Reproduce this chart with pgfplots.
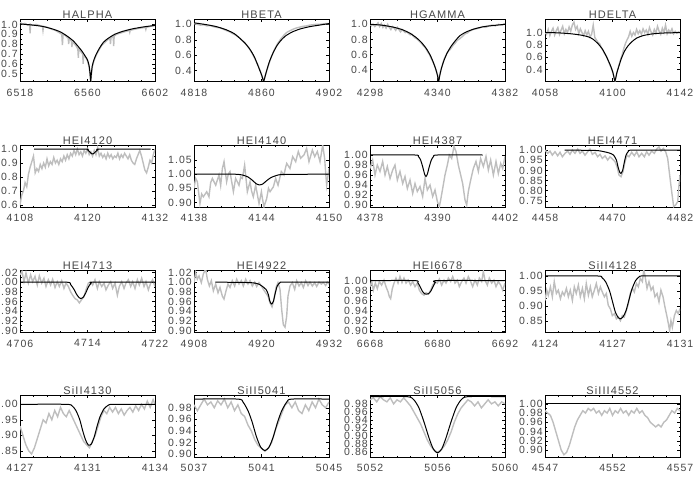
\documentclass[border=0pt]{standalone}
\usepackage{pgfplots}
\pgfplotsset{compat=1.18}
\usepackage{fontspec}
\setmainfont{Liberation Sans}
\newfontfamily\idlfont[LetterSpace=10]{Liberation Sans}
\definecolor{obsgray}{RGB}{190,190,190}
\definecolor{lbl}{RGB}{70,70,70}
\pgfplotsset{
  panel/.style={
    scale only axis, width=135pt, height=62pt, anchor=north west,
    axis line style={black, line width=0.6pt},
    tick align=inside, tick pos=both, xticklabel pos=lower, yticklabel pos=left,
    major tick length=3pt, minor tick length=1.5pt,
    every tick/.style={black, line width=0.5pt},
    minor x tick num=4, minor y tick num=1,
    scaled ticks=false,
    tick label style={font=\idlfont\fontsize{10.5}{10.5}\selectfont, text=lbl},
    xticklabel style={inner sep=0pt, yshift=-7pt},
    yticklabel style={inner sep=0pt, xshift=-2pt},
    every axis title/.style={at={(0.5,1)}, anchor=base, inner sep=0pt, yshift=1pt,
      font=\idlfont\fontsize{11}{11}\selectfont, text=lbl},
  },
  obs/.style={color=obsgray, line width=1.4pt},
  model/.style={black, line width=1.0pt, smooth, tension=0.4},
}
\begin{document}
\begin{tikzpicture}
\path[use as bounding box] (0pt,0pt) rectangle (700pt,-500pt);

% ---------- row 1 ----------
\begin{axis}[panel, at={(20pt,-19.5pt)}, title={HALPHA},
  xmin=6518, xmax=6602, ymin=0.42, ymax=1.05,
  xtick={6518,6560,6602}, xticklabels={6518,6560,6602},
  ytick={0.5,0.6,0.7,0.8,0.9,1.0}, yticklabels={0.5,0.6,0.7,0.8,0.9,1.0}]
\addplot[obs] coordinates {
(6518,1.02) (6519,1.01) (6520,1.0) (6521,1.01) (6522,1.0) (6523,0.99) (6524,1.0) (6524.3,0.91) (6524.6,1.0)
(6526,0.99) (6528,1.0) (6530,0.99) (6532,0.98) (6532.3,0.94) (6532.6,0.98) (6535,0.97) (6538,0.95)
(6540,0.94) (6542,0.92) (6544,0.90) (6544.4,0.79) (6544.8,0.9) (6546,0.89) (6548,0.86) (6548.3,0.80)
(6548.6,0.86) (6550,0.83) (6550.3,0.77) (6550.6,0.82) (6552,0.80) (6553,0.78) (6554,0.75) (6554.3,0.66)
(6554.6,0.75) (6556,0.72) (6557,0.70) (6557.3,0.60) (6557.6,0.69) (6559,0.66) (6560,0.63) (6561,0.57)
(6562,0.43) (6563,0.57) (6564,0.63) (6565.5,0.69) (6567.5,0.75) (6569,0.79) (6571,0.82) (6573,0.85)
(6574,0.86) (6574.3,0.80) (6574.6,0.86) (6576,0.88) (6576.3,0.78) (6576.6,0.88) (6578,0.9) (6580,0.91)
(6582,0.92) (6584,0.93) (6586,0.94) (6586.3,0.92) (6586.6,0.94) (6589,0.95) (6592,0.96) (6594,0.965)
(6596,0.97) (6596.3,0.95) (6596.6,0.97) (6599,0.98) (6602,0.99)};
\addplot[model] coordinates {
(6518,1.005) (6525,0.995) (6532,0.98) (6538,0.955) (6543,0.925) (6547,0.885) (6551,0.835) (6554,0.78)
(6556.5,0.73) (6558.5,0.68) (6560,0.64) (6561,0.58) (6561.6,0.50) (6562.0,0.42) (6562.4,0.50) (6563,0.58)
(6564,0.64) (6565.5,0.70) (6567.5,0.76) (6570,0.82) (6573,0.86) (6577,0.90) (6582,0.93) (6588,0.955)
(6595,0.975) (6602,0.99)};
\end{axis}

\begin{axis}[panel, at={(194pt,-19.5pt)}, title={HBETA},
  xmin=4818, xmax=4902, ymin=0.258, ymax=1.063,
  xtick={4818,4860,4902}, xticklabels={4818,4860,4902},
  ytick={0.4,0.6,0.8,1.0}, yticklabels={0.4,0.6,0.8,1.0}]
\addplot[obs] coordinates {
(4818,1.01) (4820,1.00) (4822,0.99) (4824,0.995) (4826,0.98) (4828,0.985) (4830,0.97) (4832,0.96)
(4834,0.955) (4836,0.94) (4838,0.92) (4840,0.905) (4842,0.88) (4844,0.86) (4846,0.83) (4848,0.79)
(4850,0.75) (4852,0.70) (4854,0.63) (4856,0.55) (4858,0.46) (4859.5,0.38) (4860.5,0.31) (4861.3,0.27)
(4862,0.31) (4863,0.38) (4864.5,0.48) (4866,0.57) (4868,0.67) (4870,0.75) (4872,0.81) (4874,0.86)
(4876,0.90) (4878,0.92) (4880,0.94) (4882,0.955) (4884,0.965) (4886,0.975) (4888,0.98) (4890,0.99)
(4892,0.995) (4894,1.0) (4896,1.0) (4898,1.005) (4900,1.01) (4902,1.01)};
\addplot[model] coordinates {
(4818,1.02) (4826,0.995) (4832,0.97) (4838,0.93) (4843,0.88) (4847,0.81) (4850,0.75) (4853,0.67)
(4855.5,0.58) (4857.5,0.48) (4859,0.40) (4860.3,0.33) (4861.3,0.26) (4862.3,0.33) (4863.5,0.42)
(4865,0.52) (4867,0.62) (4869.5,0.72) (4872,0.79) (4875,0.85) (4879,0.90) (4884,0.94) (4890,0.97)
(4896,0.99) (4902,1.01)};
\end{axis}

\begin{axis}[panel, at={(370pt,-19.5pt)}, title={HGAMMA},
  xmin=4298, xmax=4382, ymin=0.242, ymax=1.064,
  xtick={4298,4340,4382}, xticklabels={4298,4340,4382},
  ytick={0.4,0.6,0.8,1.0}, yticklabels={0.4,0.6,0.8,1.0}]
\addplot[obs] coordinates {
(4298,1.0) (4299,0.98) (4300,1.0) (4301,0.97) (4302,0.99) (4303,1.02) (4304,0.97) (4305,1.01) (4306,0.96)
(4307,0.99) (4308,0.95) (4309,1.0) (4310,0.96) (4311,0.93) (4312,0.97) (4313,0.95) (4314,0.92) (4315,0.96)
(4316,0.93) (4317,0.9) (4318,0.93) (4319,0.91) (4320,0.89) (4321,0.9) (4322,0.88) (4323,0.86) (4324,0.87)
(4325,0.84) (4326,0.82) (4327,0.81) (4328,0.79) (4329,0.77) (4330,0.75) (4331,0.72) (4332,0.70) (4333,0.67)
(4334,0.63) (4335,0.60) (4336,0.55) (4337,0.51) (4338,0.46) (4339,0.40) (4340,0.33) (4340.7,0.26)
(4341.4,0.33) (4342,0.39) (4343,0.46) (4344,0.53) (4345,0.58) (4346,0.62) (4347,0.65) (4348,0.67)
(4349,0.70) (4350,0.73) (4351,0.75) (4352,0.78) (4353,0.80) (4354,0.81) (4355,0.83) (4356,0.85) (4357,0.87)
(4358,0.88) (4359,0.89) (4360,0.91) (4362,0.93) (4364,0.94) (4366,0.95) (4368,0.97) (4370,0.96) (4372,0.98)
(4374,0.99) (4376,0.98) (4378,1.0) (4380,0.99) (4382,1.01)};
\addplot[model] coordinates {
(4298,1.0) (4305,0.99) (4312,0.965) (4318,0.93) (4323,0.88) (4327,0.82) (4330,0.76) (4333,0.68)
(4335.5,0.59) (4337.5,0.49) (4339,0.40) (4340,0.32) (4340.7,0.24) (4341.4,0.32) (4342.5,0.42) (4344,0.52)
(4346,0.62) (4348.5,0.71) (4351,0.78) (4354,0.85) (4358,0.90) (4363,0.94) (4369,0.97) (4375,0.985) (4382,1.0)};
\end{axis}

\begin{axis}[panel, at={(545pt,-19.5pt)}, title={HDELTA},
  xmin=4058, xmax=4142, ymin=0.21, ymax=1.21,
  xtick={4058,4100,4142}, xticklabels={4058,4100,4142},
  ytick={0.4,0.6,0.8,1.0}, yticklabels={0.4,0.6,0.8,1.0}]
\addplot[obs] coordinates {
(4058,1.0) (4059,0.97) (4060,1.05) (4061,0.95) (4062,1.02) (4063,1.07) (4064,0.96) (4065,1.03) (4066,1.08)
(4067,0.97) (4068,1.04) (4069,1.1) (4070,0.98) (4071,1.05) (4072,1.0) (4073,1.09) (4074,1.02) (4075,1.12)
(4076,1.17) (4077,1.05) (4078,1.1) (4079,0.98) (4080,1.06) (4081,1.0) (4082,0.95) (4083,1.03) (4084,0.96)
(4085,1.02) (4086,0.93) (4087,0.97) (4088,1.12) (4089,0.92) (4090,0.88) (4091,0.84) (4092,0.82) (4093,0.76)
(4094,0.72) (4095,0.66) (4096,0.63) (4097,0.57) (4098,0.5) (4099,0.44) (4100,0.37) (4101,0.28) (4101.6,0.22)
(4102.3,0.3) (4103,0.38) (4104,0.47) (4105,0.56) (4106,0.64) (4107,0.74) (4108,0.82) (4109,0.88) (4110,0.93)
(4111,1.02) (4112,0.94) (4113,1.0) (4114,0.96) (4115,1.05) (4116,0.98) (4117,1.03) (4118,0.97) (4119,1.06)
(4120,1.0) (4121,1.04) (4122,0.97) (4123,1.08) (4124,1.01) (4125,0.96) (4126,1.05) (4127,0.99) (4128,1.1)
(4129,1.02) (4130,0.97) (4131,1.07) (4132,1.0) (4133,1.12) (4134,0.98) (4135,1.04) (4136,1.0) (4137,1.06)
(4138,0.98) (4139,1.02) (4140,0.99) (4141,1.01) (4142,1.0)};
\addplot[model] coordinates {
(4058,1.0) (4066,0.995) (4074,0.98) (4080,0.96) (4085,0.93) (4088,0.89) (4091,0.82) (4093.5,0.74)
(4095.5,0.65) (4097.5,0.54) (4099,0.45) (4100.3,0.35) (4101.5,0.22) (4102.7,0.35) (4104,0.46) (4105.5,0.58)
(4107.5,0.70) (4109.5,0.78) (4112,0.85) (4115,0.91) (4119,0.95) (4124,0.975) (4130,0.99) (4136,0.995) (4142,1.0)};
\end{axis}

% ---------- row 2 ----------
\begin{axis}[panel, at={(20pt,-145pt)}, title={HEI4120},
  xmin=4108, xmax=4132, ymin=0.586, ymax=1.029,
  xtick={4108,4120,4132}, xticklabels={4108,4120,4132},
  ytick={0.6,0.7,0.8,0.9,1.0}, yticklabels={0.6,0.7,0.8,0.9,1.0}]
\addplot[obs] coordinates {
(4108,0.6) (4108.3,0.67) (4108.6,0.7) (4108.9,0.76) (4109.2,0.73) (4109.5,0.82) (4109.8,0.87) (4110.1,0.91)
(4110.4,0.95) (4110.7,0.83) (4111.0,0.86) (4111.3,0.84) (4111.6,0.89) (4111.9,0.86) (4112.2,0.9) (4112.5,0.87)
(4112.8,0.93) (4113.1,0.88) (4113.4,0.91) (4113.7,0.89) (4114.0,0.94) (4114.3,0.9) (4114.6,0.92) (4114.9,0.89)
(4115.2,0.93) (4115.5,0.91) (4115.8,0.95) (4116.1,0.92) (4116.4,0.96) (4116.7,0.93) (4117.0,0.97) (4117.3,0.95)
(4117.6,0.99) (4117.9,0.96) (4118.2,1.0) (4118.5,0.96) (4118.8,0.98) (4119.1,0.95) (4119.4,0.99) (4119.7,0.97)
(4120.0,1.0) (4120.3,0.96) (4120.6,0.98) (4120.9,0.95) (4121.2,0.99) (4121.5,0.96) (4121.8,1.01) (4122.1,0.95)
(4122.4,0.97) (4122.7,0.94) (4123.0,0.96) (4123.3,0.93) (4123.6,0.97) (4123.9,0.94) (4124.2,0.96) (4124.5,0.93)
(4124.8,0.95) (4125.1,0.94) (4125.4,0.97) (4125.7,0.93) (4126.0,0.96) (4126.3,0.94) (4126.6,0.97) (4126.9,0.95)
(4127.2,0.93) (4127.5,0.96) (4127.8,0.92) (4128.1,0.9) (4128.4,0.89) (4128.7,0.93) (4129.0,0.96) (4129.3,0.99)
(4129.6,0.95) (4129.9,0.9) (4130.2,0.85) (4130.5,0.83) (4130.8,0.87) (4131.1,0.92) (4131.4,0.9) (4131.7,0.96)
(4132,1.0)};
\addplot[model] coordinates {
(4110.5,1.0) (4119.5,1.0) (4120.0,0.995) (4120.4,0.98) (4120.7,0.968) (4120.9,0.965) (4121.1,0.968)
(4121.4,0.98) (4121.8,0.995) (4122.3,1.0) (4131.2,1.0)};
\end{axis}

\begin{axis}[panel, at={(194pt,-145pt)}, title={HEI4140},
  xmin=4138, xmax=4150, ymin=0.884, ymax=1.103,
  xtick={4138,4144,4150}, xticklabels={4138,4144,4150},
  ytick={0.90,0.95,1.00,1.05}, yticklabels={0.90,0.95,1.00,1.05}]
\addplot[obs] coordinates {
(4138.00,0.950) (4138.15,0.985) (4138.30,0.973) (4138.53,0.896) (4138.68,0.93) (4138.83,0.920) (4139.13,0.938)
(4139.33,0.920) (4139.48,0.97) (4139.63,0.985) (4139.93,0.961) (4140.22,0.997) (4140.37,0.96) (4140.52,1.020)
(4140.67,1.044) (4140.90,0.973) (4141.05,1.0) (4141.20,1.009) (4141.50,0.938) (4141.70,0.985) (4142.00,0.961)
(4142.15,0.99) (4142.30,0.985) (4142.50,1.032) (4142.74,0.938) (4142.98,0.973) (4143.12,0.94) (4143.27,0.920)
(4143.48,0.961) (4143.78,0.896) (4143.99,0.938) (4144.10,0.91) (4144.22,0.885) (4144.46,0.914) (4144.62,0.95)
(4144.76,0.938) (4145.05,0.955) (4145.26,0.985) (4145.47,0.961) (4145.76,1.009) (4146.00,0.997) (4146.12,1.02)
(4146.24,1.038) (4146.53,1.020) (4146.77,1.062) (4147.04,1.044) (4147.27,1.080) (4147.48,1.056) (4147.78,1.068)
(4148.01,1.091) (4148.22,1.044) (4148.52,1.085) (4148.73,1.062) (4148.96,1.080) (4149.20,1.044) (4149.44,1.103)
(4149.61,1.056) (4149.79,0.961) (4150.00,1.020)};
\addplot[model] coordinates {
(4138,1.0) (4141.5,1.0) (4142.3,0.997) (4142.8,0.99) (4143.2,0.978) (4143.5,0.967) (4143.8,0.962)
(4144.1,0.965) (4144.4,0.975) (4144.8,0.987) (4145.3,0.995) (4146,0.999) (4150,1.0)};
\end{axis}

\begin{axis}[panel, at={(370pt,-145pt)}, title={HEI4387},
  xmin=4378, xmax=4402, ymin=0.896, ymax=1.02,
  xtick={4378,4390,4402}, xticklabels={4378,4390,4402},
  ytick={0.90,0.92,0.94,0.96,0.98,1.00}, yticklabels={0.90,0.92,0.94,0.96,0.98,1.00}]
\addplot[obs] coordinates {
(4378.00,0.973) (4378.47,0.990) (4378.89,0.960) (4379.30,0.980) (4379.78,0.967) (4380.25,0.987) (4380.67,0.960)
(4381.08,0.977) (4381.56,0.953) (4382.03,0.970) (4382.44,0.980) (4382.86,0.950) (4383.33,0.967) (4383.81,0.943)
(4384.22,0.957) (4384.64,0.933) (4385.11,0.950) (4385.59,0.923) (4386.00,0.943) (4386.41,0.927) (4386.89,0.937)
(4387.36,0.917) (4387.78,0.953) (4388.19,0.930) (4388.67,0.940) (4389.14,0.917) (4389.56,0.930) (4389.97,0.907)
(4390.33,0.897) (4390.56,0.910) (4390.92,0.933) (4391.33,0.960) (4391.75,0.980) (4392.10,1.000) (4392.52,0.993)
(4392.93,1.017) (4393.29,1.007) (4393.70,0.980) (4394.12,0.960) (4394.47,0.943) (4394.89,0.910) (4395.19,0.900)
(4395.48,0.927) (4395.90,0.950) (4396.37,0.973) (4396.84,0.987) (4397.26,0.967) (4397.67,0.993) (4398.15,0.977)
(4398.62,0.997) (4399.04,0.970) (4399.45,0.990) (4399.93,0.960) (4400.40,0.987) (4400.81,0.963) (4401.23,0.983)
(4401.59,0.973) (4402.00,0.997)};
\addplot[model] coordinates {
(4378,1.0) (4386.0,1.0) (4386.6,0.997) (4387.0,0.99) (4387.4,0.975) (4387.7,0.962) (4387.95,0.957)
(4388.2,0.962) (4388.5,0.975) (4388.9,0.99) (4389.3,0.997) (4390,1.0) (4398,1.0)};
\end{axis}

\begin{axis}[panel, at={(545pt,-145pt)}, title={HEI4471},
  xmin=4458, xmax=4482, ymin=0.72, ymax=1.025,
  xtick={4458,4470,4482}, xticklabels={4458,4470,4482},
  ytick={0.75,0.80,0.85,0.90,0.95,1.00}, yticklabels={0.75,0.80,0.85,0.90,0.95,1.00}]
\addplot[obs] coordinates {
(4458.00,1.0) (4458.47,0.984) (4458.89,0.995) (4459.30,0.975) (4459.78,0.992) (4460.25,0.972) (4460.67,0.989)
(4461.08,0.967) (4461.56,0.984) (4462.03,0.995) (4462.44,0.979) (4462.86,1.0) (4463.33,0.984) (4463.81,1.005)
(4464.22,0.984) (4464.64,0.995) (4465.11,0.975) (4465.59,0.992) (4466.00,1.005) (4466.41,0.979) (4466.89,0.989)
(4467.36,0.967) (4467.78,0.979) (4468.19,0.959) (4468.67,0.972) (4469.14,0.951) (4469.56,0.967) (4469.97,0.956)
(4470.44,0.943) (4470.80,0.918) (4471.16,0.877) (4471.51,0.869) (4471.87,0.894) (4472.22,0.943) (4472.58,0.975)
(4472.93,0.967) (4473.41,0.989) (4473.88,0.972) (4474.30,0.992) (4474.71,0.967) (4475.19,0.984) (4475.66,0.967)
(4476.07,0.992) (4476.49,0.975) (4476.96,0.995) (4477.44,0.984) (4477.85,1.005) (4478.27,1.016) (4478.62,0.995)
(4479.04,1.008) (4479.45,0.992) (4479.81,0.959) (4480.16,0.877) (4480.52,0.796) (4480.87,0.722) (4481.23,0.730)
(4481.59,0.747) (4481.82,0.828) (4482.00,0.877)};
\addplot[model] coordinates {
(4461.5,1.0) (4467,0.998) (4468.5,0.992) (4469.5,0.985) (4470.2,0.975) (4470.7,0.95) (4471.0,0.915)
(4471.3,0.89) (4471.5,0.885) (4471.8,0.9) (4472.1,0.94) (4472.4,0.975) (4472.8,0.993) (4473.5,1.0) (4482,1.0)};
\end{axis}

% ---------- row 3 ----------
\begin{axis}[panel, at={(20pt,-270.5pt)}, title={HEI4713},
  xmin=4706, xmax=4722, ymin=0.896, ymax=1.024,
  xtick={4706,4714,4722}, xticklabels={4706,4714,4722},
  ytick={0.90,0.92,0.94,0.96,0.98,1.00,1.02}, yticklabels={0.90,0.92,0.94,0.96,0.98,1.00,1.02}]
\addplot[obs] coordinates {
(4706.00,1.015) (4706.24,1.022) (4706.47,1.001) (4706.71,1.019) (4706.99,0.998) (4707.26,1.015) (4707.50,1.001)
(4707.78,1.012) (4708.05,0.994) (4708.29,1.013) (4708.57,0.998) (4708.84,1.008) (4709.08,0.991) (4709.36,1.005)
(4709.63,0.994) (4709.87,1.006) (4710.15,0.989) (4710.42,1.001) (4710.66,0.991) (4710.94,1.003) (4711.21,0.987)
(4711.45,0.998) (4711.73,0.991) (4712.00,0.980) (4712.24,0.973) (4712.52,0.966) (4712.80,0.963) (4713.03,0.957)
(4713.31,0.964) (4713.59,0.970) (4713.82,0.984) (4714.10,0.998) (4714.38,1.001) (4714.61,0.994) (4714.89,1.005)
(4715.17,0.987) (4715.40,1.001) (4715.68,0.991) (4715.96,0.998) (4716.19,0.984) (4716.47,0.994) (4716.75,1.001)
(4716.98,0.987) (4717.26,0.998) (4717.54,0.973) (4717.77,0.991) (4718.05,1.001) (4718.33,0.987) (4718.56,0.998)
(4718.84,1.005) (4719.12,0.991) (4719.35,1.001) (4719.63,0.987) (4719.91,1.005) (4720.14,0.994) (4720.42,1.008)
(4720.70,0.991) (4720.93,1.001) (4721.21,0.984) (4721.49,0.998) (4721.72,1.005) (4722.00,0.991)};
\addplot[model] coordinates {
(4706,1.0) (4711.5,1.0) (4712.0,0.995) (4712.4,0.985) (4712.7,0.975) (4713.0,0.968) (4713.2,0.966)
(4713.5,0.969) (4713.8,0.978) (4714.1,0.99) (4714.4,0.997) (4714.8,1.0) (4722,1.0)};
\end{axis}

\begin{axis}[panel, at={(194pt,-270.5pt)}, title={HEI4922},
  xmin=4908, xmax=4932, ymin=0.896, ymax=1.024,
  xtick={4908,4920,4932}, xticklabels={4908,4920,4932},
  ytick={0.90,0.92,0.94,0.96,0.98,1.00,1.02}, yticklabels={0.90,0.92,0.94,0.96,0.98,1.00,1.02}]
\addplot[obs] coordinates {
(4908.00,0.999) (4908.30,1.020) (4908.59,1.006) (4908.89,1.013) (4909.30,0.999) (4909.66,1.017) (4910.07,1.027)
(4910.37,1.006) (4910.73,0.992) (4911.08,1.003) (4911.44,0.982) (4911.85,0.996) (4912.27,0.978) (4912.62,0.989)
(4913.04,0.971) (4913.33,0.965) (4913.69,0.982) (4914.04,0.996) (4914.40,0.989) (4914.81,1.003) (4915.23,0.992)
(4915.59,1.006) (4916.00,0.996) (4916.41,1.003) (4916.77,0.992) (4917.19,1.006) (4917.60,0.996) (4917.96,1.003)
(4918.37,0.992) (4918.79,1.000) (4919.14,0.991) (4919.56,0.999) (4919.97,0.992) (4920.33,0.985) (4920.74,0.978)
(4921.16,0.971) (4921.51,0.957) (4921.87,0.949) (4922.22,0.964) (4922.58,0.989) (4922.93,0.999) (4923.29,0.985)
(4923.59,0.943) (4923.88,0.912) (4924.18,0.907) (4924.47,0.929) (4924.71,0.971) (4925.07,0.992) (4925.48,0.999)
(4925.90,0.985) (4926.25,1.003) (4926.67,0.992) (4927.08,0.999) (4927.44,0.989) (4927.85,1.003) (4928.27,0.993)
(4928.62,1.000) (4929.04,0.992) (4929.45,0.999) (4929.81,0.991) (4930.22,1.000) (4930.64,0.996) (4930.99,0.999)
(4931.41,0.993) (4931.70,1.000) (4932.00,0.996)};
\addplot[model] coordinates {
(4911.8,1.0) (4918,0.999) (4919.5,0.996) (4920.3,0.99) (4920.8,0.985) (4921.2,0.975) (4921.5,0.96)
(4921.8,0.955) (4922.1,0.96) (4922.4,0.975) (4922.8,0.992) (4923.3,0.999) (4924,1.0) (4932,1.0)};
\end{axis}

\begin{axis}[panel, at={(370pt,-270.5pt)}, title={HEI6678},
  xmin=6668, xmax=6692, ymin=0.897, ymax=1.02,
  xtick={6668,6680,6692}, xticklabels={6668,6680,6692},
  ytick={0.90,0.92,0.94,0.96,0.98,1.00}, yticklabels={0.90,0.92,0.94,0.96,0.98,1.00}]
\addplot[obs] coordinates {
(6668.00,0.988) (6668.30,0.998) (6668.59,0.981) (6668.95,0.995) (6669.30,0.984) (6669.66,0.998) (6670.07,0.991)
(6670.49,1.001) (6670.84,0.988) (6671.20,0.978) (6671.44,0.968) (6671.67,0.964) (6671.97,0.984) (6672.27,0.995)
(6672.62,1.005) (6672.98,0.995) (6673.33,1.008) (6673.69,0.996) (6674.04,1.005) (6674.40,0.995) (6674.81,1.001)
(6675.23,0.991) (6675.59,0.998) (6676.00,0.988) (6676.41,0.995) (6676.77,0.981) (6677.19,0.974) (6677.60,0.971)
(6677.96,0.976) (6678.37,0.973) (6678.79,0.981) (6679.14,0.991) (6679.56,0.998) (6679.97,0.995) (6680.33,1.003)
(6680.74,0.991) (6681.16,1.001) (6681.51,0.995) (6681.93,1.005) (6682.34,0.998) (6682.70,1.008) (6683.11,0.995)
(6683.53,1.001) (6683.88,0.988) (6684.30,0.998) (6684.71,1.005) (6685.07,0.995) (6685.48,1.008) (6685.90,0.998)
(6686.25,0.988) (6686.67,1.001) (6687.08,0.991) (6687.44,1.005) (6687.85,0.998) (6688.15,1.018) (6688.44,1.001)
(6688.86,0.991) (6689.21,1.005) (6689.63,0.995) (6690.04,1.001) (6690.40,0.988) (6690.81,0.998) (6691.23,0.991)
(6691.59,0.981) (6692.00,0.995)};
\addplot[model] coordinates {
(6668,1.0) (6676.0,1.0) (6676.5,0.996) (6676.9,0.988) (6677.3,0.979) (6677.7,0.974) (6678.0,0.973)
(6678.4,0.974) (6678.8,0.979) (6679.2,0.988) (6679.6,0.996) (6680.0,1.0) (6692,1.0)};
\end{axis}

\begin{axis}[panel, at={(545pt,-270.5pt)}, title={SiII4128},
  xmin=4124, xmax=4131, ymin=0.813, ymax=1.018,
  xtick={4124,4127.5,4131}, xticklabels={4124,4127,4131},
  ytick={0.85,0.90,0.95,1.00}, yticklabels={0.85,0.90,0.95,1.00}]
\addplot[obs] coordinates {
(4124.00,0.919) (4124.09,0.953) (4124.17,0.936) (4124.28,0.964) (4124.38,0.931) (4124.48,0.981) (4124.59,0.942)
(4124.69,0.953) (4124.80,0.925) (4124.90,0.947) (4125.00,0.936) (4125.11,0.959) (4125.21,0.931) (4125.31,0.953)
(4125.42,0.919) (4125.52,0.964) (4125.62,0.942) (4125.73,0.970) (4125.83,0.931) (4125.94,0.959) (4126.04,0.925)
(4126.14,0.975) (4126.25,0.936) (4126.35,0.964) (4126.45,0.931) (4126.56,0.953) (4126.66,0.975) (4126.77,0.942)
(4126.87,0.964) (4126.97,0.947) (4127.08,0.931) (4127.18,0.942) (4127.28,0.903) (4127.39,0.891) (4127.49,0.869)
(4127.60,0.875) (4127.70,0.858) (4127.80,0.864) (4127.91,0.852) (4128.01,0.869) (4128.11,0.864) (4128.22,0.886)
(4128.32,0.908) (4128.42,0.942) (4128.53,0.959) (4128.63,0.947) (4128.74,0.975) (4128.84,0.964) (4128.94,0.992)
(4129.05,0.981) (4129.12,1.020) (4129.19,0.998) (4129.29,0.959) (4129.39,0.981) (4129.50,0.953) (4129.60,0.964)
(4129.70,0.931) (4129.81,0.942) (4129.91,0.914) (4130.01,0.953) (4130.12,0.931) (4130.22,0.897) (4130.33,0.864)
(4130.40,0.841) (4130.46,0.819) (4130.53,0.852) (4130.60,0.830) (4130.71,0.869) (4130.81,0.886) (4130.91,0.875)
(4131.00,0.892)};
\addplot[model] coordinates {
(4124,1.0) (4126.7,1.0) (4126.95,0.995) (4127.15,0.98) (4127.35,0.95) (4127.5,0.915) (4127.65,0.88)
(4127.8,0.862) (4127.9,0.858) (4128.05,0.865) (4128.2,0.885) (4128.35,0.92) (4128.5,0.955) (4128.7,0.985)
(4128.9,0.998) (4129.1,1.0) (4131,1.0)};
\end{axis}

% ---------- row 4 ----------
\begin{axis}[panel, at={(20pt,-395pt)}, title={SiII4130},
  xmin=4127, xmax=4134, ymin=0.83, ymax=1.03,
  xtick={4127,4130.5,4134}, xticklabels={4127,4131,4134},
  ytick={0.85,0.90,0.95,1.00}, yticklabels={0.85,0.90,0.95,1.00}]
\addplot[obs] coordinates {
(4127.0,0.93) (4127.15,0.90) (4127.3,0.87) (4127.45,0.85) (4127.6,0.84) (4127.75,0.86) (4127.9,0.89)
(4128.05,0.92) (4128.2,0.95) (4128.35,0.94) (4128.5,0.97) (4128.65,0.95) (4128.8,0.98) (4128.95,0.96)
(4129.1,0.99) (4129.25,0.97) (4129.4,0.96) (4129.55,0.98) (4129.7,0.96) (4129.85,0.94) (4130.0,0.92)
(4130.15,0.9) (4130.3,0.88) (4130.45,0.87) (4130.6,0.86) (4130.75,0.88) (4130.9,0.9) (4131.05,0.93)
(4131.2,0.96) (4131.35,0.98) (4131.5,0.97) (4131.65,0.99) (4131.8,0.975) (4131.95,0.99) (4132.1,0.97)
(4132.25,0.985) (4132.4,0.965) (4132.55,0.98) (4132.7,0.99) (4132.85,0.975) (4133.0,0.995) (4133.15,0.98)
(4133.3,1.0) (4133.45,0.985) (4133.6,1.01) (4133.75,0.99) (4133.9,1.015) (4134.0,1.0)};
\addplot[model] coordinates {
(4127,1.0) (4129.4,1.0) (4129.7,0.995) (4129.9,0.98) (4130.1,0.95) (4130.25,0.915) (4130.4,0.885)
(4130.55,0.868) (4130.7,0.872) (4130.85,0.895) (4131.0,0.93) (4131.15,0.96) (4131.35,0.985) (4131.6,0.998)
(4131.9,1.0) (4134,1.0)};
\end{axis}

\begin{axis}[panel, at={(194pt,-395pt)}, title={SiII5041},
  xmin=5037, xmax=5045, ymin=0.895, ymax=1.002,
  xtick={5037,5041,5045}, xticklabels={5037,5041,5045},
  ytick={0.90,0.92,0.94,0.96,0.98}, yticklabels={0.90,0.92,0.94,0.96,0.98}]
\addplot[obs] coordinates {
(5037,0.985) (5037.2,0.975) (5037.4,0.985) (5037.6,0.995) (5037.8,0.985) (5038.0,0.99) (5038.2,0.98)
(5038.4,0.992) (5038.6,0.985) (5038.8,0.995) (5039.0,0.98) (5039.2,0.99) (5039.4,0.975) (5039.6,0.985)
(5039.8,0.97) (5040.0,0.965) (5040.2,0.95) (5040.4,0.94) (5040.6,0.925) (5040.8,0.915) (5041.0,0.91)
(5041.2,0.905) (5041.4,0.91) (5041.6,0.92) (5041.8,0.94) (5042.0,0.955) (5042.2,0.97) (5042.4,0.985)
(5042.6,0.99) (5042.8,0.98) (5043.0,0.99) (5043.2,0.975) (5043.4,0.97) (5043.6,0.985) (5043.8,0.975)
(5044.0,0.99) (5044.2,0.98) (5044.4,0.995) (5044.6,0.985) (5044.8,0.98) (5045,0.99)};
\addplot[model] coordinates {
(5037,0.995) (5039.6,0.995) (5039.9,0.99) (5040.2,0.975) (5040.45,0.955) (5040.7,0.93) (5040.95,0.912)
(5041.2,0.906) (5041.45,0.912) (5041.7,0.93) (5041.95,0.955) (5042.2,0.975) (5042.5,0.99) (5042.8,0.995)
(5045,0.995)};
\end{axis}

\begin{axis}[panel, at={(370pt,-395pt)}, title={SiII5056},
  xmin=5052, xmax=5060, ymin=0.848, ymax=1.002,
  xtick={5052,5056,5060}, xticklabels={5052,5056,5060},
  ytick={0.86,0.88,0.90,0.92,0.94,0.96,0.98}, yticklabels={0.86,0.88,0.90,0.92,0.94,0.96,0.98}]
\addplot[obs] coordinates {
(5052,0.99) (5052.2,0.995) (5052.4,0.985) (5052.6,0.998) (5052.8,0.99) (5053.0,0.985) (5053.2,0.995)
(5053.4,0.98) (5053.6,0.99) (5053.8,0.985) (5054.0,0.995) (5054.2,0.985) (5054.4,0.975) (5054.6,0.96)
(5054.8,0.945) (5055.0,0.93) (5055.2,0.91) (5055.4,0.89) (5055.6,0.875) (5055.8,0.865) (5056.0,0.86)
(5056.2,0.865) (5056.4,0.875) (5056.6,0.89) (5056.8,0.91) (5057.0,0.935) (5057.2,0.955) (5057.4,0.97)
(5057.6,0.98) (5057.8,0.99) (5058.0,0.985) (5058.2,0.975) (5058.4,0.985) (5058.6,0.97) (5058.8,0.98)
(5059.0,0.99) (5059.2,0.98) (5059.4,0.985) (5059.6,0.975) (5059.8,0.985) (5060,0.98)};
\addplot[model] coordinates {
(5052,0.998) (5054.2,0.998) (5054.6,0.99) (5054.9,0.97) (5055.2,0.935) (5055.5,0.895) (5055.75,0.868)
(5056.0,0.858) (5056.25,0.868) (5056.5,0.895) (5056.8,0.935) (5057.1,0.97) (5057.4,0.99) (5057.8,0.998)
(5060,0.998)};
\end{axis}

\begin{axis}[panel, at={(545pt,-395pt)}, title={SiIII4552},
  xmin=4547, xmax=4557, ymin=0.885, ymax=1.019,
  xtick={4547,4552,4557}, xticklabels={4547,4552,4557},
  ytick={0.90,0.92,0.94,0.96,0.98,1.00}, yticklabels={0.90,0.92,0.94,0.96,0.98,1.00}]
\addplot[obs] coordinates {
(4547,0.985) (4547.2,0.98) (4547.4,0.975) (4547.6,0.96) (4547.8,0.94) (4548.0,0.92) (4548.2,0.9)
(4548.4,0.89) (4548.6,0.895) (4548.8,0.91) (4549.0,0.93) (4549.2,0.95) (4549.4,0.965) (4549.6,0.975)
(4549.8,0.985) (4550.0,0.98) (4550.2,0.99) (4550.4,0.985) (4550.6,0.99) (4550.8,0.98) (4551.0,0.985)
(4551.2,0.975) (4551.4,0.985) (4551.6,0.98) (4551.8,0.99) (4552.0,0.975) (4552.2,0.985) (4552.4,0.98)
(4552.6,0.99) (4552.8,0.98) (4553.0,0.985) (4553.2,0.975) (4553.4,0.985) (4553.6,0.98) (4553.8,0.99)
(4554.0,0.98) (4554.2,0.985) (4554.4,0.975) (4554.6,0.97) (4554.8,0.96) (4555.0,0.955) (4555.2,0.95)
(4555.4,0.955) (4555.6,0.95) (4555.8,0.96) (4556.0,0.965) (4556.2,0.975) (4556.4,0.985) (4556.6,0.98)
(4556.8,0.99) (4557,0.985)};
\addplot[model] coordinates {(4547,1.0) (4552,1.0) (4557,1.0)};
\end{axis}
\end{tikzpicture}
\end{document}
